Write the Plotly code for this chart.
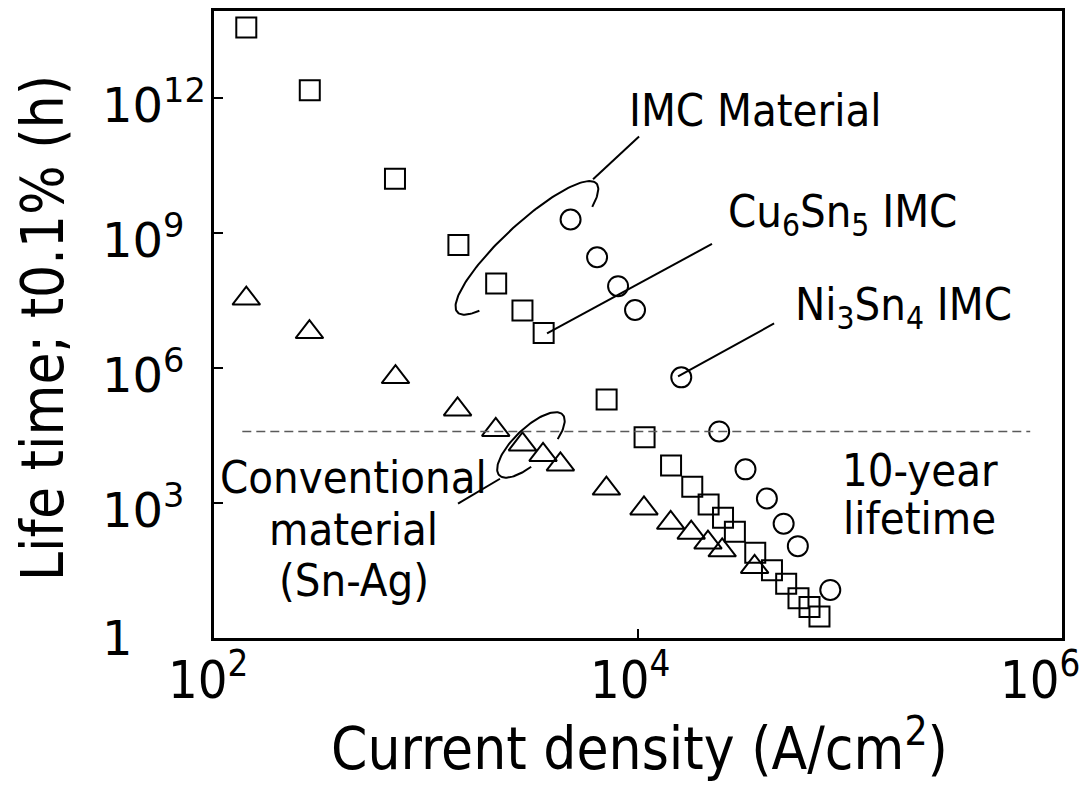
import numpy as np
import plotly.graph_objects as go

# ---------------- data ----------------
cu_x = [142, 283, 714, 1422, 2143, 2851, 3589, 7112, 10740, 14320, 18030, 21530,
        25180, 28640, 35730, 42850, 50000, 57150, 64420, 71780]
cu_y = [3.7e13, 1.5e12, 1.6e10, 5.4e8, 7.6e7, 1.9e7, 6.0e6, 2.0e5, 2.9e4, 6.8e3,
        2.3e3, 9.3e2, 4.7e2, 2.3e2, 78, 32, 16, 7.6, 4.9, 3.0]

snag_x = [142, 282, 718, 1409, 2133, 2851, 3565, 4305, 7096, 10670, 14260, 17820,
          21380, 24950, 35480]
snag_y = [3.5e7, 6.3e6, 6.3e5, 1.2e5, 4.2e4, 2.0e4, 1.17e4, 7.2e3, 2.1e3, 760, 363,
          219, 132, 89, 38]

ni_x = [4808, 6412, 8054, 9683, 16000, 24150, 32140, 40550, 48640, 56750, 80720]
ni_y = [2.0e9, 2.9e8, 6.6e7, 1.95e7, 6.2e5, 3.9e4, 5.6e3, 1.26e3, 347, 110, 11.7]

ten_year_x = [136, 7.08e5]
ten_year_y = [3.9e4, 3.9e4]

x_tick_vals = [1e2, 1e4, 1e6]
x_tick_text = ["10<sup>2</sup>", "10<sup>4</sup>", "10<sup>6</sup>"]
y_tick_vals = [1, 1e3, 1e6, 1e9, 1e12]
y_tick_text = ["1", "10<sup>3</sup>", "10<sup>6</sup>", "10<sup>9</sup>", "10<sup>12</sup>"]

# ---------------- styling ----------------
COND = "DejaVu Sans Condensed, DejaVu Sans"
REG = "DejaVu Sans"
Y_TOP = 13.935            # log10 of the top of the frame
PLOT_W, PLOT_H = 848, 630
PX_PER_DEC_X = PLOT_W / 4.0
PX_PER_DEC_Y = PLOT_H / Y_TOP

fig = go.Figure()

mk = dict(size=20, color="black", line=dict(width=2, color="black"))
fig.add_trace(go.Scatter(x=cu_x, y=cu_y, mode="markers", name="Cu6Sn5 IMC",
                         marker=dict(symbol="square-open", **mk)))
fig.add_trace(go.Scatter(x=ni_x, y=ni_y, mode="markers", name="Ni3Sn4 IMC",
                         marker=dict(symbol="circle-open", **mk)))
fig.add_trace(go.Scatter(x=snag_x, y=snag_y, mode="markers", name="Sn-Ag",
                         marker=dict(symbol="triangle-up-open", size=24, color="black",
                                     line=dict(width=2, color="black"))))

# 10-year lifetime dashed line
fig.add_trace(go.Scatter(x=ten_year_x, y=ten_year_y, mode="lines",
                         line=dict(color="#5a5a5a", width=1.6, dash="9px,5px"),
                         hoverinfo="skip"))


def ellipse(cx, cy, a, b, theta_deg, t0, t1):
    """decorative open ellipse, centre in log10 coordinates, axes in pixels"""
    t = np.radians(np.linspace(t0, t1, 120))
    th = np.radians(theta_deg)
    dx = a * np.cos(t) * np.cos(th) - b * np.sin(t) * np.sin(th)
    dy = a * np.cos(t) * np.sin(th) + b * np.sin(t) * np.cos(th)
    return 10 ** (cx + dx / PX_PER_DEC_X), 10 ** (cy + dy / PX_PER_DEC_Y)


def deco(x, y):
    fig.add_trace(go.Scatter(x=x, y=y, mode="lines",
                             line=dict(color="black", width=2), hoverinfo="skip"))


# IMC material ellipse + leader
ex, ey = ellipse(3.476, 8.671, 95, 24, 43, -37, 215)
deco(ex, ey)
deco([10 ** 3.788, 10 ** 4.005], [10 ** 10.197, 10 ** 11.148])
# conventional material ellipse + leader
ex, ey = ellipse(3.495, 4.291, 44, 17, 44, -58, 250)
deco(ex, ey)
deco([10 ** 3.151, 10 ** 3.349], [10 ** 2.986, 10 ** 3.539])
# Cu6Sn5 leader
deco([10 ** 3.571, 10 ** 4.349], [10 ** 6.768, 10 ** 8.759])
# Ni3Sn4 leader
deco([10 ** 4.189, 10 ** 4.642], [10 ** 5.817, 10 ** 6.990])

ann = []
txt_font = dict(family=COND, size=45, color="black")
labels = [
    (3.950, 11.73, "IMC Material", "left"),
    (4.416, 9.43, "Cu<sub>6</sub>Sn<sub>5</sub> IMC", "left"),
    (4.732, 7.36, "Ni<sub>3</sub>Sn<sub>4</sub> IMC", "left"),
    (5.330, 3.716, "10-year", "center"),
    (5.330, 2.654, "lifetime", "center"),
    (2.658, 3.561, "Conventional", "center"),
    (2.658, 2.411, "material", "center"),
    (2.658, 1.283, "(Sn-Ag)", "center"),
]
for x, y, t, xa in labels:
    ann.append(dict(x=x, y=y, text=t, xanchor=xa, yanchor="middle", xref="x", yref="y",
                    showarrow=False, font=txt_font))

# tick labels as annotations (left-aligned y labels, as in the reference)
y_lab_shift = [0, -4, -4, -4, -4]
for v, t, s in zip(y_tick_vals, y_tick_text, y_lab_shift):
    ann.append(dict(x=-0.1344, xref="paper", y=np.log10(v), yref="y", text=t,
                    xanchor="left", yanchor="middle", showarrow=False, yshift=s,
                    font=dict(family=REG, size=48, color="black")))
x_lab_shift = [-6, -8, -22]
for v, t, s in zip(x_tick_vals, x_tick_text, x_lab_shift):
    ann.append(dict(x=np.log10(v), xref="x", y=-0.0603, yref="paper", text=t,
                    xanchor="center", yanchor="middle", showarrow=False, xshift=s,
                    font=dict(family=COND, size=52, color="black")))

# axis titles
ann.append(dict(x=0.502, xref="paper", y=-0.170, yref="paper",
                text="Current density (A/cm<sup>2</sup>)", showarrow=False,
                xanchor="center", yanchor="middle",
                font=dict(family=COND, size=58, color="black")))
ann.append(dict(x=-0.217, xref="paper", y=0.4944, yref="paper", xshift=13,
                text="Life time; t0.1% (h)", showarrow=False, textangle=-90,
                xanchor="center", yanchor="middle",
                font=dict(family=COND, size=58, color="black")))

fig.update_layout(
    width=1081, height=778,
    margin=dict(l=206, r=27, t=0, b=148, pad=0),
    paper_bgcolor="white", plot_bgcolor="white",
    showlegend=False,
    annotations=ann,
    xaxis=dict(type="log", range=[2, 6], showgrid=False, zeroline=False,
               showline=True, linewidth=3, linecolor="black", mirror=True,
               ticks="inside", ticklen=9, tickwidth=1.5, tickcolor="black",
               tickvals=[1e4], showticklabels=False),
    yaxis=dict(type="log", range=[0, Y_TOP], showgrid=False, zeroline=False,
               showline=True, linewidth=3, linecolor="black", mirror=True,
               ticks="inside", ticklen=9, tickwidth=1.5, tickcolor="black",
               tickvals=[1e3, 1e6, 1e9, 1e12], showticklabels=False),
)

fig.write_html("out.html")
